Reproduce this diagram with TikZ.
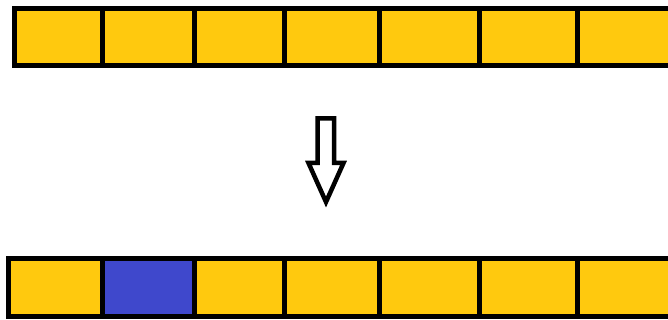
\documentclass[tikz,border=0pt]{standalone}
\usepackage{tikz}
\usetikzlibrary{positioning}
\definecolor{cellyellow}{RGB}{255,201,14}
\definecolor{cellblue}{RGB}{63,72,204}

\begin{document}
\begin{tikzpicture}[x=1pt,y=-1pt]
			\useasboundingbox (0,0) rectangle (668,320);
			\clip (0,0) rectangle (668,320);
			\begin{scope}[line width=5pt]
			% top row
			\fill[cellyellow] (14.7,8.7) rectangle (690,66);
			\foreach \i in {102.5,194.5,284.5,379.5,479.5,577.5}
			\draw (\i,8.7)--(\i,66);
			\draw (14.7,8.7) rectangle (690,66);
			% bottom row
			\fill[cellyellow] (8.7,258.5) rectangle (690,316);
			\fill[cellblue] (102.5,258.5) rectangle (194.5,316);
			\foreach \i in {102.5,194.5,284.5,379.5,479.5,577.5}
			\draw (\i,258.5)--(\i,316);
			\draw (8.7,258.5) rectangle (690,316);
			\end{scope}
			% arrow
			\draw[line width=4.5pt] (317.5,118.5)--(334,118.5)--(334,163)--(343.5,163)--(326,202)--(308.5,163)--(317.5,163)--cycle;
\end{tikzpicture}
\end{document}
